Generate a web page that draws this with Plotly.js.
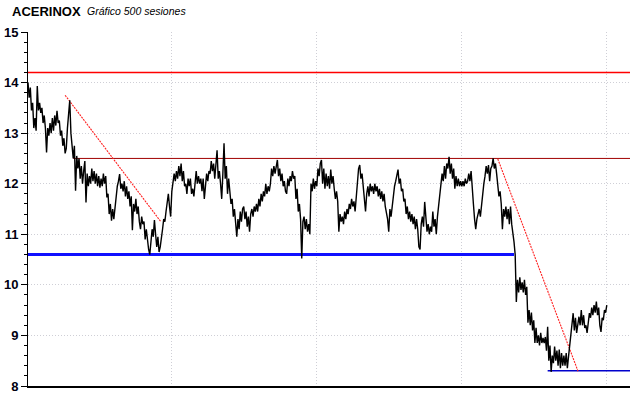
<!DOCTYPE html>
<html>
<head>
<meta charset="utf-8">
<script src="https://cdn.plot.ly/plotly-3.0.1.min.js"></script>
<style>
  html, body { margin: 0; padding: 0; background: #ffffff; }
  #chart { width: 640px; height: 398px; }
</style>
</head>
<body>
<div id="chart"></div>
<script>
// ---- Data ----
const chartTitle = 'ACERINOX';
const chartSubtitle = 'Gráfico 500 sesiones';

// Daily price, 500 sessions (index = session number)
const prices = [
  14.0, 13.7, 13.9, 13.45, 13.6, 13.1, 13.3, 13.05, 13.93, 13.45,
  13.6, 13.4, 13.5, 13.2, 13.35, 13.1, 12.62, 13.1, 12.95, 13.2,
  13.0, 13.3, 13.05, 13.35, 13.15, 13.44, 13.2, 13.25, 12.95, 13.05,
  12.75, 12.9, 12.6, 12.7, 13.1, 13.45, 13.65, 13.0, 12.8, 12.5,
  12.75, 11.86, 12.55, 12.3, 12.5, 12.1, 12.35, 12.0, 12.25, 12.45,
  11.63, 12.2, 11.95, 12.15, 12.0, 12.3, 12.05, 12.25, 12.0, 12.2,
  11.95, 12.15, 11.92, 12.1, 11.95, 12.2, 12.0, 12.15, 11.73, 11.8,
  11.4, 11.6, 11.27, 11.5, 11.3, 11.55, 11.8, 11.95, 12.05, 12.19,
  11.9, 12.0, 11.85, 12.05, 11.75, 11.95, 11.7, 11.85, 11.55, 11.75,
  11.08, 11.6, 11.45, 11.7, 11.4, 11.55, 11.25, 11.1, 11.35, 11.2,
  11.25, 10.9, 11.1, 10.85, 10.7, 10.6, 10.9, 11.1, 10.95, 11.28,
  11.0, 10.75, 10.95, 10.65, 10.75, 11.0, 11.1, 11.3, 11.25, 11.45,
  11.6, 11.8, 11.55, 11.35, 11.85, 12.1, 12.2, 12.05, 12.25, 12.1,
  12.35, 12.15, 12.4, 12.05, 12.25, 11.95, 12.0, 11.8, 12.1, 11.95,
  12.1, 11.8, 11.9, 11.75, 11.95, 12.25, 12.0, 12.15, 12.0, 12.1,
  11.85, 12.1, 11.7, 12.0, 12.2, 12.05, 12.25, 12.2, 12.45, 12.25,
  12.4, 12.1, 12.35, 12.66, 12.1, 12.25, 12.0, 11.7, 12.2, 12.8,
  12.1, 12.35, 11.8, 12.1, 11.85, 11.6, 11.7, 11.35, 11.5, 11.2,
  10.95, 11.3, 11.1, 11.45, 11.25, 11.5, 11.55, 11.3, 11.45, 11.15,
  11.35, 11.05, 11.4, 11.5, 11.35, 11.55, 11.45, 11.6, 11.45, 11.7,
  11.55, 11.8, 11.65, 11.85, 11.75, 12.0, 11.8, 11.95, 11.85, 12.0,
  12.3, 12.15, 12.35, 12.2, 12.4, 12.47, 12.15, 12.3, 12.05, 12.2,
  11.95, 12.05, 11.85, 11.8, 12.1, 11.95, 12.15, 12.05, 12.25, 12.1,
  12.15, 11.7, 11.9, 11.45, 11.6, 11.3, 10.52, 11.25, 11.35, 11.1,
  11.3, 11.05, 11.2, 11.0, 12.0, 11.85, 12.1, 11.9, 12.05, 11.95,
  12.3, 12.15, 12.4, 12.47, 12.0, 12.3, 11.9, 12.2, 11.95, 12.15,
  11.9, 12.28, 12.0, 12.15, 11.9, 11.7, 11.85, 11.65, 11.05, 11.4,
  11.25, 11.35, 11.2, 11.45, 11.3, 11.5, 11.4, 11.6, 11.5, 11.7,
  11.55, 11.65, 11.45, 11.8, 12.05, 12.3, 12.37, 12.1, 12.2, 11.95,
  11.75, 11.45, 11.8, 11.95, 11.75, 12.0, 11.85, 11.95, 11.8, 12.0,
  11.85, 11.95, 11.75, 11.9, 11.7, 11.85, 11.65, 11.8, 11.55, 11.4,
  11.3, 11.05, 11.5, 11.35, 11.6, 11.8, 11.95, 12.05, 12.2, 12.28,
  12.0, 12.1, 11.85, 11.9, 11.65, 11.7, 11.4, 11.55, 11.3, 11.45,
  11.25, 11.4, 11.2, 11.35, 11.1, 11.3, 11.1, 10.75, 10.7, 11.2,
  11.35, 11.15, 11.64, 11.3, 11.05, 11.2, 11.0, 11.15, 11.05, 11.45,
  11.15, 11.3, 11.0, 11.35, 11.55, 11.7, 11.95, 12.2, 12.05, 12.35,
  12.1, 12.4, 12.3, 12.53, 12.2, 12.4, 12.1, 12.3, 11.9, 12.15,
  11.95, 12.1, 11.95, 12.05, 11.95, 12.05, 11.95, 12.1, 12.0, 12.05,
  12.2, 12.05, 12.25, 11.8, 11.6, 11.3, 11.1, 11.3, 11.4, 11.5,
  11.35, 11.6, 11.8, 12.0, 12.15, 12.35, 12.2, 12.37, 12.05, 12.3,
  12.35, 12.5, 12.3, 12.4, 12.2, 11.9, 11.75, 11.85, 11.6, 11.1,
  11.5, 11.35, 11.55, 11.3, 11.5, 11.2, 11.55, 11.2, 11.05, 10.85,
  10.6, 9.66, 10.1, 9.85, 10.15, 9.9, 10.05, 9.85, 10.1, 9.8,
  9.96, 9.25, 9.5, 9.2, 9.45, 9.1, 9.3, 8.85, 9.15, 8.85,
  9.0, 8.8, 9.05, 8.85, 8.95, 8.85, 8.97, 8.7, 9.17, 8.5,
  8.8, 8.28, 8.6, 8.45, 8.78, 8.5, 8.7, 8.4, 8.72, 8.35,
  8.65, 8.4, 8.6, 8.4, 8.65, 8.35, 8.58, 8.8, 8.95, 9.3,
  9.44, 9.1, 9.35, 9.05, 9.25, 9.37, 9.2, 9.5, 9.2, 9.4,
  9.15, 9.2, 9.05, 9.3, 9.44, 9.35, 9.55, 9.4, 9.6, 9.45,
  9.67, 9.4, 9.55, 9.2, 9.07, 9.35, 9.3, 9.5, 9.45, 9.6
];
const sessions = prices.map((_, i) => i);

// Horizontal levels: [startSession, endSession] and price level
const upperLevelX = [0, 519];   const upperLevelY = [14.2, 14.2];
const midLevelX = [39, 519];    const midLevelY = [12.5, 12.5];
const supportX = [0, 419];      const supportY = [10.6, 10.6];
const lowLevelX = [448, 519];   const lowLevelY = [8.3, 8.3];
// Trend lines (dashed)
const trend1X = [32, 114.5];    const trend1Y = [13.75, 11.25];
const trend2X = [405, 474.4];   const trend2Y = [12.49, 8.28];

const yTicks = [8, 9, 10, 11, 12, 13, 14, 15];

// ---- Traces ----
const traces = [
  { x: upperLevelX, y: upperLevelY, mode: 'lines', line: { color: '#ff0000', width: 1.4 }, hoverinfo: 'skip' },
  { x: midLevelX, y: midLevelY, mode: 'lines', line: { color: '#a00000', width: 1 }, hoverinfo: 'skip' },
  { x: supportX, y: supportY, mode: 'lines', line: { color: '#1010ff', width: 3 }, hoverinfo: 'skip' },
  { x: lowLevelX, y: lowLevelY, mode: 'lines', line: { color: '#0000cc', width: 1.5 }, hoverinfo: 'skip' },
  { x: trend1X, y: trend1Y, mode: 'lines', line: { color: '#ff2020', width: 1.1, dash: '2px,1px' }, hoverinfo: 'skip' },
  { x: trend2X, y: trend2Y, mode: 'lines', line: { color: '#ff2020', width: 1.1, dash: '2px,1px' }, hoverinfo: 'skip' },
  { x: sessions, y: prices, mode: 'lines', line: { color: '#000000', width: 1.4 }, hoverinfo: 'skip' }
];

const layout = {
  width: 640, height: 398,
  margin: { l: 28, r: 10, t: 32, b: 12, pad: 0 },
  paper_bgcolor: '#ffffff', plot_bgcolor: '#ffffff',
  showlegend: false,
  font: { family: '"Liberation Sans", Arial, sans-serif', size: 13, color: '#000' },
  xaxis: {
    range: [0, 519], showticklabels: false, ticks: '',
    showgrid: true, gridcolor: '#cfcfd6', griddash: '1px,2px', gridwidth: 1,
    tick0: 124, dtick: 125,
    showline: true, linecolor: '#000', linewidth: 1.5, zeroline: false
  },
  yaxis: {
    range: [8, 15], tickvals: yTicks, ticktext: yTicks.map(v => '<b>' + v + '</b>'),
    ticks: 'outside', ticklen: 6, tickwidth: 1, tickcolor: '#000',
    tickfont: { size: 13, color: '#000010', family: '"Liberation Sans", Arial, sans-serif' },
    minor: { dtick: 0.2, ticks: 'outside', ticklen: 3, tickcolor: '#000', showgrid: false },
    showgrid: true, gridcolor: '#cfcfd6', griddash: '1px,2px', gridwidth: 1,
    showline: true, linecolor: '#000', linewidth: 1, zeroline: false
  },
  annotations: [
    { text: '<b>' + chartTitle + '</b>', xref: 'paper', yref: 'paper',
      x: -0.0299, y: 1.0593, xanchor: 'left', yanchor: 'middle', showarrow: false,
      font: { size: 13, color: '#000', family: '"Liberation Sans", Arial, sans-serif' } },
    { text: '<i>' + chartSubtitle + '</i>', xref: 'paper', yref: 'paper',
      x: 0.0950, y: 1.0593, xanchor: 'left', yanchor: 'middle', showarrow: false,
      font: { size: 10.5, color: '#000', family: '"Liberation Sans", Arial, sans-serif' } }
  ]
};

Plotly.newPlot('chart', traces, layout, { staticPlot: true, displayModeBar: false });
</script>
</body>
</html>
